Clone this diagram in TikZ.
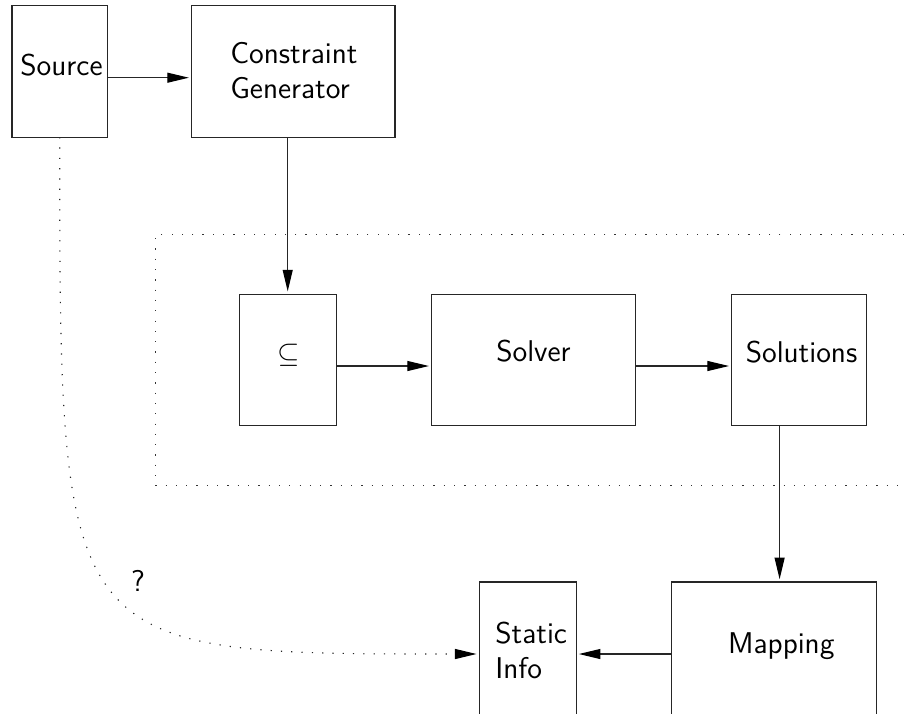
\documentclass[tikz,border=0pt]{standalone}
\usetikzlibrary{arrows.meta}
\begin{document}
\begin{tikzpicture}[x=0.5pt,y=-0.5pt,
  box/.style={draw=black!85,line width=0.55pt,inner sep=0pt,outer sep=0pt,minimum height=65.75pt},
  lbl/.style={font=\sffamily\fontsize{15}{17.5}\selectfont,inner sep=0pt},
  arr/.style={draw=black!85,line width=0.55pt,-{Triangle[length=10.8pt,width=5pt,black]},shorten >=1.4pt},
  dots/.style={draw=black!80,line width=0.6pt,dash pattern=on 0.6pt off 4.55pt}]
\useasboundingbox (0,0) rectangle (904,713);
\clip (0,0) rectangle (904,713);
% boxes
\node[box,minimum width=47.75pt] (src) at (59.7,71.4) {};
\node[box,minimum width=101.65pt] (cg) at (293.3,71.4) {};
\node[box,minimum width=48.35pt] (sub) at (287.7,359.9) {};
\node[box,minimum width=102pt] (solver) at (533.7,359.9) {};
\node[box,minimum width=67.15pt] (sol) at (798.9,359.9) {};
\node[box,minimum width=102.15pt,minimum height=67pt] (map) at (773.9,649) {};
\node[box,minimum width=48.35pt,minimum height=67pt] (static) at (527.7,649) {};
% texts
\node[lbl,anchor=base] (tsrc) at (61.5,75) {Source};
\node[lbl,anchor=base west] (tcg) at (230,63) {\begin{tabular}[t]{@{}l@{}}Constraint\\Generator\end{tabular}};
\node[lbl] (tsub) at (288.5,355) {$\subseteq$};
\node[lbl,anchor=base] (tsolver) at (533.5,361.7) {Solver};
\node[lbl,anchor=base] (tsol) at (801.5,362.5) {Solutions};
\node[lbl,anchor=base] (tmap) at (781.3,653.3) {Mapping};
\node[lbl,anchor=base west] (tstatic) at (495,643) {\begin{tabular}[t]{@{}l@{}}Static\\Info\end{tabular}};
\node[lbl,anchor=base] (q) at (138,591.7) {?};
% dotted region
\draw[dots] (904,234.5) -- (155.7,234.5) -- (155.7,485.7) -- (904,485.7);
% connectors
\draw[arr] ([yshift=-3.15pt]src.east) -- ([yshift=-3.15pt]cg.west);
\draw[arr] (sub.north |- cg.south) -- (sub.north);
\draw[arr] ([yshift=-3.05pt]sub.east) -- ([yshift=-3.05pt]solver.west);
\draw[arr] ([yshift=-3.05pt]solver.east) -- ([yshift=-3.05pt]sol.west);
\coordinate (sb) at ([xshift=-9.65pt]sol.south);
\draw[arr] (sb) -- (sb |- map.north);
\draw[arr] ([yshift=-2.5pt]map.west) -- ([yshift=-2.5pt]static.east);
\coordinate (si) at ([yshift=-2.5pt]static.west);
\draw[dots,arr] (src.south) .. controls (src.south |- si) .. (si);
\end{tikzpicture}
\end{document}
